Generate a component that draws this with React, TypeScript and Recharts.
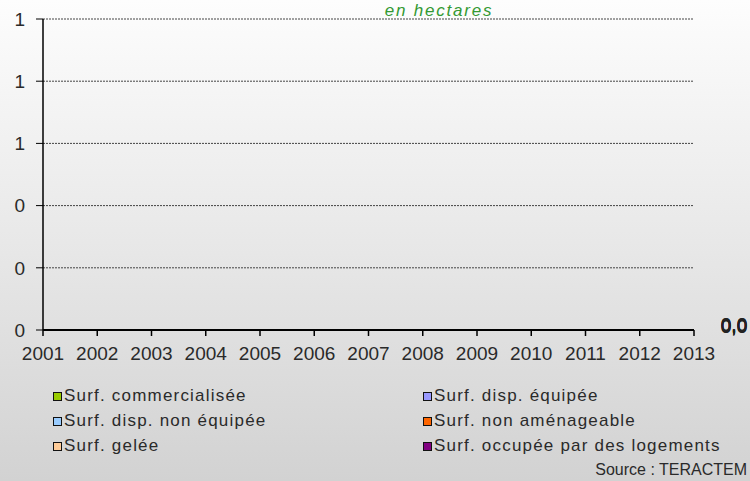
import React from 'react';
import { AreaChart, Area, XAxis, YAxis, CartesianGrid, LabelList } from 'recharts';

const years = ['2001', '2002', '2003', '2004', '2005', '2006', '2007', '2008', '2009', '2010', '2011', '2012', '2013'];
const commercialisee = [0, 0, 0, 0, 0, 0, 0, 0, 0, 0, 0, 0, 0];
const dispEquipee = [0, 0, 0, 0, 0, 0, 0, 0, 0, 0, 0, 0, 0];
const dispNonEquipee = [0, 0, 0, 0, 0, 0, 0, 0, 0, 0, 0, 0, 0];
const nonAmenageable = [0, 0, 0, 0, 0, 0, 0, 0, 0, 0, 0, 0, 0];
const gelee = [0, 0, 0, 0, 0, 0, 0, 0, 0, 0, 0, 0, 0];
const logements = [0, 0, 0, 0, 0, 0, 0, 0, 0, 0, 0, 0, 0];
const yTicks = [0, 0.2, 0.4, 0.6, 0.8, 1];

const seriesNames = [
  'Surf. commercialisée',
  'Surf. disp. équipée',
  'Surf. disp. non équipée',
  'Surf. non aménageable',
  'Surf. gelée',
  'Surf. occupée par des logements',
];
const seriesKeys = ['commercialisee', 'dispEquipee', 'dispNonEquipee', 'nonAmenageable', 'gelee', 'logements'];
const seriesValues = [commercialisee, dispEquipee, dispNonEquipee, nonAmenageable, gelee, logements];
const seriesColors = ['#99cc00', '#9999ff', '#99ccff', '#ff6600', '#ffcc99', '#800080'];
const legendOrder = [0, 1, 2, 3, 4, 5];

const data = years.map((y, i) => {
  const row: Record<string, any> = { year: y };
  seriesKeys.forEach((k, s) => {
    row[k] = seriesValues[s][i];
  });
  return row;
});

const FONT = '"Liberation Sans", Arial, sans-serif';

const fmt = (v: number) => v.toFixed(1).replace('.', ',');

const makeLabel = (s: number) => (props: any) => {
  const { x, y, value, index } = props;
  if (index !== years.length - 1) return null;
  const v = Array.isArray(value) ? value[1] - value[0] : Number(value);
  const off = [0, 0.5, 1, 1.5, 2, 2.5][s];
  return (
    <text
      key={`lbl-${s}`}
      x={Number(x) + 40}
      y={Number(y) + 3 - off}
      textAnchor="middle"
      fontFamily={FONT}
      fontSize={19}
      fill="#222"
    >
      {fmt(v)}
    </text>
  );
};

export default function App() {
  return (
    <div
      style={{
        position: 'absolute',
        left: 0,
        top: 0,
        width: 750,
        height: 481,
        background: 'linear-gradient(to bottom, #fdfdfd 0%, #e6e6e6 55%, #d2d2d2 100%)',
        fontFamily: FONT,
        overflow: 'hidden',
      }}
    >
      <AreaChart
        width={750}
        height={481}
        data={data}
        margin={{ top: 19, right: 56, bottom: 0, left: 0 }}
      >
        <CartesianGrid horizontal vertical={false} stroke="#444" strokeDasharray="2 1" />
        <XAxis
          dataKey="year"
          type="category"
          scale="point"
          padding={{ left: 0, right: 0 }}
          height={151}
          interval={0}
          axisLine={{ stroke: '#000', strokeWidth: 2 }}
          tickLine={{ stroke: '#000', strokeWidth: 1.5 }}
          tickSize={6}
          tickMargin={11}
          tick={{ fill: '#2a2a2a', fontSize: 19, fontFamily: FONT }}
        />
        <YAxis
          type="number"
          domain={[0, 1]}
          ticks={yTicks}
          width={43}
          interval={0}
          tickFormatter={(v: number) => String(Math.round(v))}
          axisLine={{ stroke: '#000', strokeWidth: 1.5 }}
          tickLine={{ stroke: '#000', strokeWidth: 1 }}
          tickSize={7}
          tickMargin={11}
          tick={{ fill: '#2a2a2a', fontSize: 19, fontFamily: FONT }}
        />
        {seriesKeys.map((k, s) => (
          <Area
            key={k}
            type="linear"
            dataKey={k}
            name={seriesNames[s]}
            stackId="1"
            fill={seriesColors[s]}
            fillOpacity={1}
            stroke="none"
            isAnimationActive={false}
          >
            <LabelList dataKey={k} content={makeLabel(s)} />
          </Area>
        ))}
        <text
          x={439}
          y={16}
          textAnchor="middle"
          fontFamily={FONT}
          fontStyle="italic"
          fontSize={17}
          letterSpacing={1.8}
          fill="#339933"
        >
          en hectares
        </text>
      </AreaChart>
      {legendOrder.map((s, i) => {
        const col = i % 2;
        const row = Math.floor(i / 2);
        const left = col === 0 ? 53 : 423;
        const cy = 396 + row * 25;
        return (
          <div
            key={seriesKeys[s]}
            style={{
              position: 'absolute',
              left,
              top: cy - 12,
              height: 24,
              display: 'flex',
              alignItems: 'center',
              whiteSpace: 'nowrap',
            }}
          >
            <span
              style={{
                display: 'inline-block',
                width: 7,
                height: 7,
                background: seriesColors[s],
                border: '1.5px solid #111',
                marginRight: 2,
              }}
            />
            <span style={{ fontSize: 17, letterSpacing: 1.2, color: '#2a2a2a' }}>{seriesNames[s]}</span>
          </div>
        );
      })}
      <div
        style={{
          position: 'absolute',
          right: 3,
          top: 461,
          fontSize: 16,
          color: '#2a2a2a',
          whiteSpace: 'nowrap',
        }}
      >
        Source : TERACTEM
      </div>
    </div>
  );
}
